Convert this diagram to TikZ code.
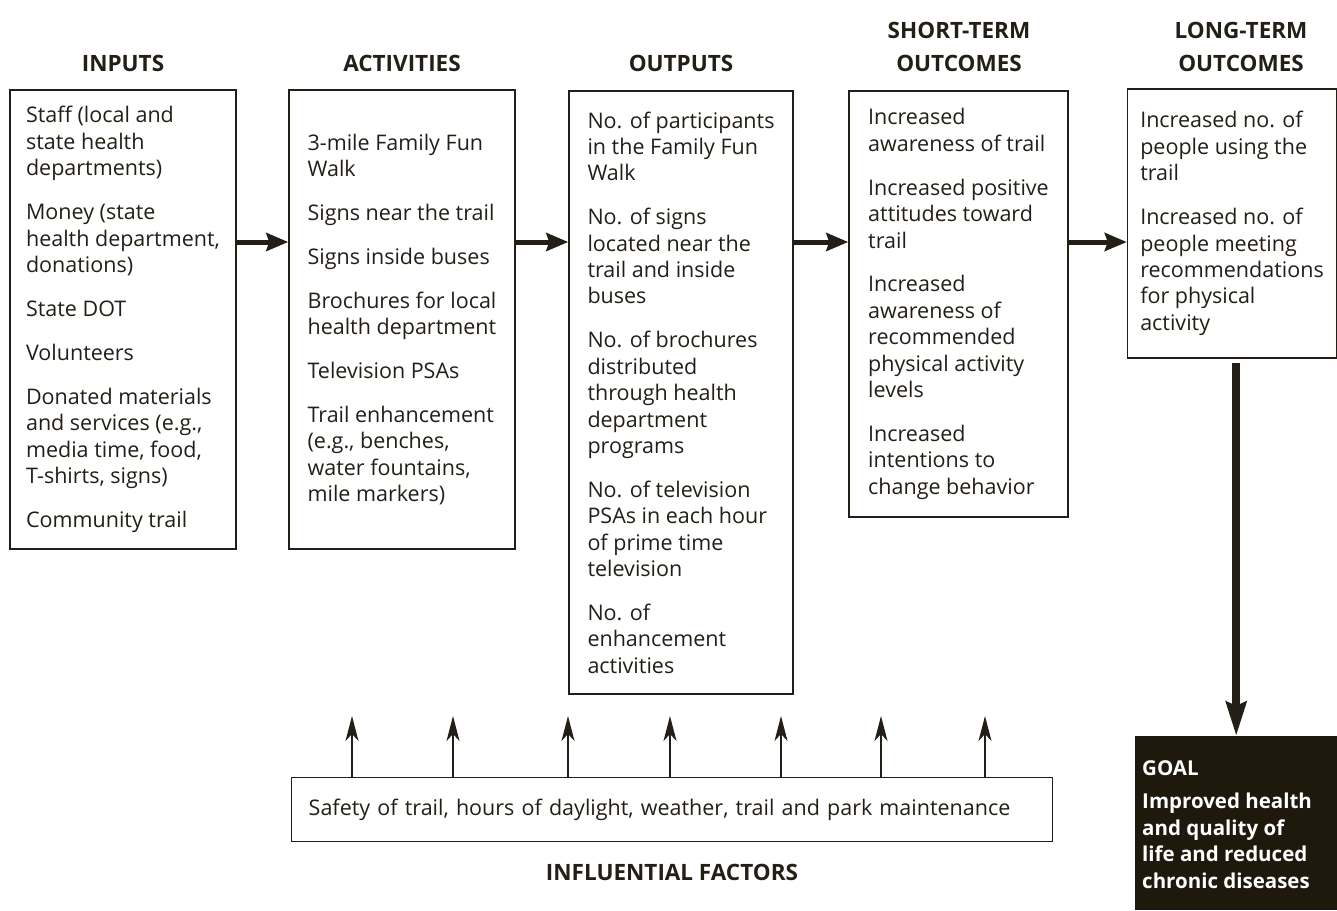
\documentclass[tikz,border=0pt]{standalone}
\usepackage{fontspec}
\setmainfont{Open Sans}
\usetikzlibrary{arrows.meta,calc}
\definecolor{ink}{HTML}{231F17}
\definecolor{goalfill}{HTML}{1E190C}
\newcommand{\pgap}{\\[17.5pt]}
\begin{document}
\begin{tikzpicture}[x=1pt,y=-1pt,
  every node/.style={text=ink, font=\fontsize{21.5}{26.4}\selectfont},
  box/.style={draw=ink, line width=1.4pt, align=left, inner xsep=0pt, inner ysep=0pt},
  head/.style={font=\fontsize{22.5}{33}\selectfont\bfseries, align=center, inner sep=0pt},
  hbig/.style={draw=ink, line width=5pt, -{Stealth[length=22pt,width=18pt,inset=3pt]}},
  vbig/.style={draw=ink, line width=8pt, -{Stealth[length=34pt,width=20pt,inset=4pt]}},
  thinarrow/.style={draw=ink, line width=1.5pt, -{Stealth[length=25pt,width=13pt,inset=7pt]}}
]
\useasboundingbox (0,0) rectangle (1337,910);

% headers
\node[head] (hin)  at (123,63) {INPUTS};
\node[head] (hact) at (402,63) {ACTIVITIES};
\node[head] (hout) at (681,63) {OUTPUTS};
\node[head] (hst)  at (959,46.5) {SHORT-TERM\\OUTCOMES};
\node[head] (hlt)  at (1241,46.5) {LONG-TERM\\OUTCOMES};

% boxes
\node[box, minimum width=226, minimum height=459] (inputs) at (123,319.5)
 {Staff (local and\\state health\\departments)\pgap
  Money (state\\health department,\\donations)\pgap
  State DOT\pgap
  Volunteers\pgap
  Donated materials\\and services (e.g.,\\media time, food,\\T-shirts, signs)\pgap
  Community trail};

\node[box, minimum width=226, minimum height=459] (activities) at (402,319.5)
 {3-mile Family Fun\\Walk\pgap
  Signs near the trail\pgap
  Signs inside buses\pgap
  Brochures for local\\health department\pgap
  Television PSAs\pgap
  Trail enhancement\\(e.g., benches,\\water fountains,\\mile markers)};

\node[box, minimum width=224, minimum height=603] (outputs) at (681,392.5)
 {No. of participants\\in the Family Fun\\Walk\pgap
  No. of signs\\located near the\\trail and inside\\buses\pgap
  No. of brochures\\distributed\\through health\\department\\programs\pgap
  No. of television\\PSAs in each hour\\of prime time\\television\pgap
  No. of\\enhancement\\activities};

\node[box, minimum width=219, minimum height=426] (short) at (958.5,304)
 {Increased\\awareness of trail\pgap
  Increased positive\\attitudes toward\\trail\pgap
  Increased\\awareness of\\recommended\\physical activity\\levels\pgap
  Increased\\intentions to\\change behavior};

\node[box, minimum width=209, minimum height=269] (long) at (1232,223.5)
 {Increased no. of\\people using the\\trail\pgap
  Increased no. of\\people meeting\\recommendations\\for physical\\activity};

% goal
\node[fill=goalfill, draw=none, minimum width=202, minimum height=174, anchor=north west, inner sep=0pt] (goal) at (1135,736) {};
\node[anchor=north west, inner sep=0pt, align=left, text=white,
      font=\fontsize{20.5}{26.5}\selectfont\bfseries] (goaltxt) at (1142,760)
 {GOAL\\[7pt]Improved health\\and quality of\\life and reduced\\chronic diseases};

% influential factors
\node[box, anchor=north west, minimum width=761, minimum height=64, text width=727, inner xsep=17pt] (factors) at (291,777)
 {Safety of trail, hours of daylight, weather, trail and park maintenance};
\node[head] (hif) at (672,872) {INFLUENTIAL FACTORS};

% main arrows
\coordinate (ah) at (0,242);
\draw[hbig] (inputs.east |- ah) -- (activities.west |- ah);
\draw[hbig] (activities.east |- ah) -- (outputs.west |- ah);
\draw[hbig] (outputs.east |- ah) -- (short.west |- ah);
\draw[hbig] (short.east |- ah) -- (long.west |- ah);
\draw[vbig] ($(goal.north |- long.south)+(0,4)$) -- (goal.north);

% factor arrows
\foreach \x [count=\i] in {352,453,568,670,781,881,985} {
  \coordinate (tip\i) at (\x,716);
  \draw[thinarrow] (factors.north -| tip\i) -- (tip\i);
}
\end{tikzpicture}
\end{document}
